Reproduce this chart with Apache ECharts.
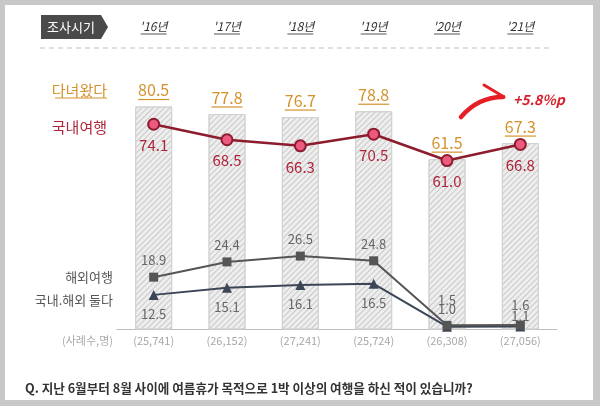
<!DOCTYPE html>
<html><head><meta charset="utf-8">
<script src="https://cdn.jsdelivr.net/npm/echarts@6/dist/echarts.min.js"></script>
<style>html,body{margin:0;padding:0;background:#c8c8c8}#c{width:600px;height:406px}</style>
</head><body><div id="c"></div>
<script>
const years = ["'16년", "'17년", "'18년", "'19년", "'20년", "'21년"];
const samples = ["(25,741)", "(26,152)", "(27,241)", "(25,724)", "(26,308)", "(27,056)"];
const visited = [80.5, 77.8, 76.7, 78.8, 61.5, 67.3];
const domestic = [74.1, 68.5, 66.3, 70.5, 61.0, 66.8];
const overseas = [18.9, 24.4, 26.5, 24.8, 1.5, 1.6];
const both = [12.5, 15.1, 16.1, 16.5, 1.0, 1.1];

const FONT = "'Noto Sans CJK KR', 'Noto Sans', sans-serif";
const chart = echarts.init(document.getElementById('c'));

const bothData = both.map((v, i) => {
  if (i === 4) return { value: v, label: { position: 'top', distance: 6 } };
  if (i === 5) return { value: v, label: { position: 'top', distance: -1 } };
  return v;
});
const overseasData = overseas.map((v, i) => {
  if (i === 4) return { value: v, label: { distance: 14 } };
  if (i === 5) return { value: v, label: { distance: 9 } };
  return v;
});

chart.setOption({
  backgroundColor: '#c8c8c8',
  animation: false,
  textStyle: { fontFamily: FONT },
  graphic: [
    { type: 'rect', z: -10, shape: { x: 5, y: 5, width: 588, height: 395 }, style: { fill: '#ffffff' } },
    { type: 'polygon', shape: { points: [[41, 15], [101, 15], [108, 27], [101, 39], [41, 39]] }, style: { fill: '#4a4a4a' } },
    { type: 'text', style: { text: '조사시기', x: 71, y: 27, align: 'center', verticalAlign: 'middle', fill: '#ffffff', font: '13px ' + FONT } },
    { type: 'line', shape: { x1: 40, y1: 48, x2: 552, y2: 48 }, style: { stroke: '#bdbdbd', lineWidth: 1, lineDash: [5, 4] } },
    { type: 'text', style: { text: '다녀왔다', x: 107, y: 90, align: 'right', verticalAlign: 'middle', fill: '#d4922d', font: '15px ' + FONT } },
    { type: 'line', shape: { x1: 55, y1: 98, x2: 107, y2: 98 }, style: { stroke: '#d4922d', lineWidth: 1.2 } },
    { type: 'text', style: { text: '국내여행', x: 107, y: 127, align: 'right', verticalAlign: 'middle', fill: '#b0243a', font: '15px ' + FONT } },
    { type: 'text', style: { text: '해외여행', x: 113, y: 277, align: 'right', verticalAlign: 'middle', fill: '#555555', font: '13px ' + FONT } },
    { type: 'text', style: { text: '국내.해외 둘다', x: 113, y: 300, align: 'right', verticalAlign: 'middle', fill: '#555555', font: '13px ' + FONT } },
    { type: 'text', style: { text: '(사례수,명)', x: 113, y: 341, align: 'right', verticalAlign: 'middle', fill: '#aaaaaa', font: '11px ' + FONT } },
    { type: 'text', style: { text: 'Q. 지난 6월부터 8월 사이에 여름휴가 목적으로 1박 이상의 여행을 하신 적이 있습니까?', x: 25, y: 388, verticalAlign: 'middle', fill: '#333333', font: 'bold 12.6px ' + FONT } },
    { type: 'bezierCurve', shape: { x1: 461, y1: 117, cpx1: 478, cpy1: 97, x2: 503, y2: 97 }, style: { stroke: '#e61e25', fill: 'none', lineWidth: 4.5, lineCap: 'round' } },
    { type: 'line', shape: { x1: 484, y1: 85, x2: 504, y2: 97 }, style: { stroke: '#e61e25', lineWidth: 3, lineCap: 'round' } },
    { type: 'text', style: { text: '+5.8%p', x: 513, y: 100, verticalAlign: 'middle', fill: '#d71f2a', font: 'italic bold 14px ' + FONT } }
  ],
  grid: { left: 117, right: 43, top: 52.5, bottom: 76.5 },
  xAxis: [
    {
      type: 'category', data: samples, position: 'bottom',
      axisLine: { lineStyle: { color: '#bdbdbd', width: 1 } },
      axisTick: { show: false },
      axisLabel: { color: '#a8a8a8', fontSize: 11, margin: 6, fontFamily: FONT }
    },
    {
      type: 'category', data: years, position: 'top',
      axisLine: { show: false }, axisTick: { show: false },
      axisLabel: {
        margin: 18, formatter: v => '{a|' + v + '}\n{u|}',
        rich: {
          a: { color: '#333333', fontSize: 12, fontStyle: 'italic', lineHeight: 14, fontFamily: FONT },
          u: { height: 1, width: 26, backgroundColor: '#555555', lineHeight: 1 }
        }
      }
    }
  ],
  yAxis: { type: 'value', min: 0, max: 100, show: false, splitLine: { show: false } },
  series: [
    {
      name: '다녀왔다', type: 'bar', data: visited, barWidth: 37, xAxisIndex: 0,
      itemStyle: {
        color: '#eeeeee', borderColor: '#d2d2d2', borderWidth: 1,
        decal: { symbol: 'rect', symbolSize: 1, dashArrayX: [[1, 0]], dashArrayY: [1, 3], rotation: -Math.PI / 4, color: '#c9c9c9' }
      },
      label: {
        show: true, position: 'top', distance: 6,
        formatter: p => '{a|' + p.value.toFixed(1) + '}\n{u|}',
        rich: {
          a: { color: '#d4922d', fontSize: 16, lineHeight: 17, fontFamily: FONT, align: 'center' },
          u: { height: 1.2, width: 31, backgroundColor: '#d4922d', lineHeight: 2 }
        }
      },
      z: 1
    },
    {
      name: '국내여행', type: 'line', data: domestic, symbol: 'circle', symbolSize: 11,
      lineStyle: { color: '#8c1c2e', width: 2.5 },
      itemStyle: { color: '#ec5a7f', borderColor: '#8c1c2e', borderWidth: 2 },
      label: { show: true, position: 'bottom', distance: 7, color: '#b0243a', fontSize: 15, fontFamily: FONT, formatter: p => p.value.toFixed(1) },
      z: 5
    },
    {
      name: '해외여행', type: 'line', data: overseasData, symbol: 'rect', symbolSize: 9,
      lineStyle: { color: '#555555', width: 2 },
      itemStyle: { color: '#555555' },
      label: { show: true, position: 'top', distance: 6, color: '#666666', fontSize: 13, fontFamily: FONT, formatter: p => p.value.toFixed(1) },
      z: 4
    },
    {
      name: '국내.해외 둘다', type: 'line', data: bothData, symbol: 'triangle', symbolSize: 10,
      lineStyle: { color: '#3c4656', width: 2 },
      itemStyle: { color: '#3c4656' },
      label: { show: true, position: 'bottom', distance: 8, color: '#666666', fontSize: 13, fontFamily: FONT, formatter: p => p.value.toFixed(1) },
      z: 3
    }
  ]
});
</script></body></html>
